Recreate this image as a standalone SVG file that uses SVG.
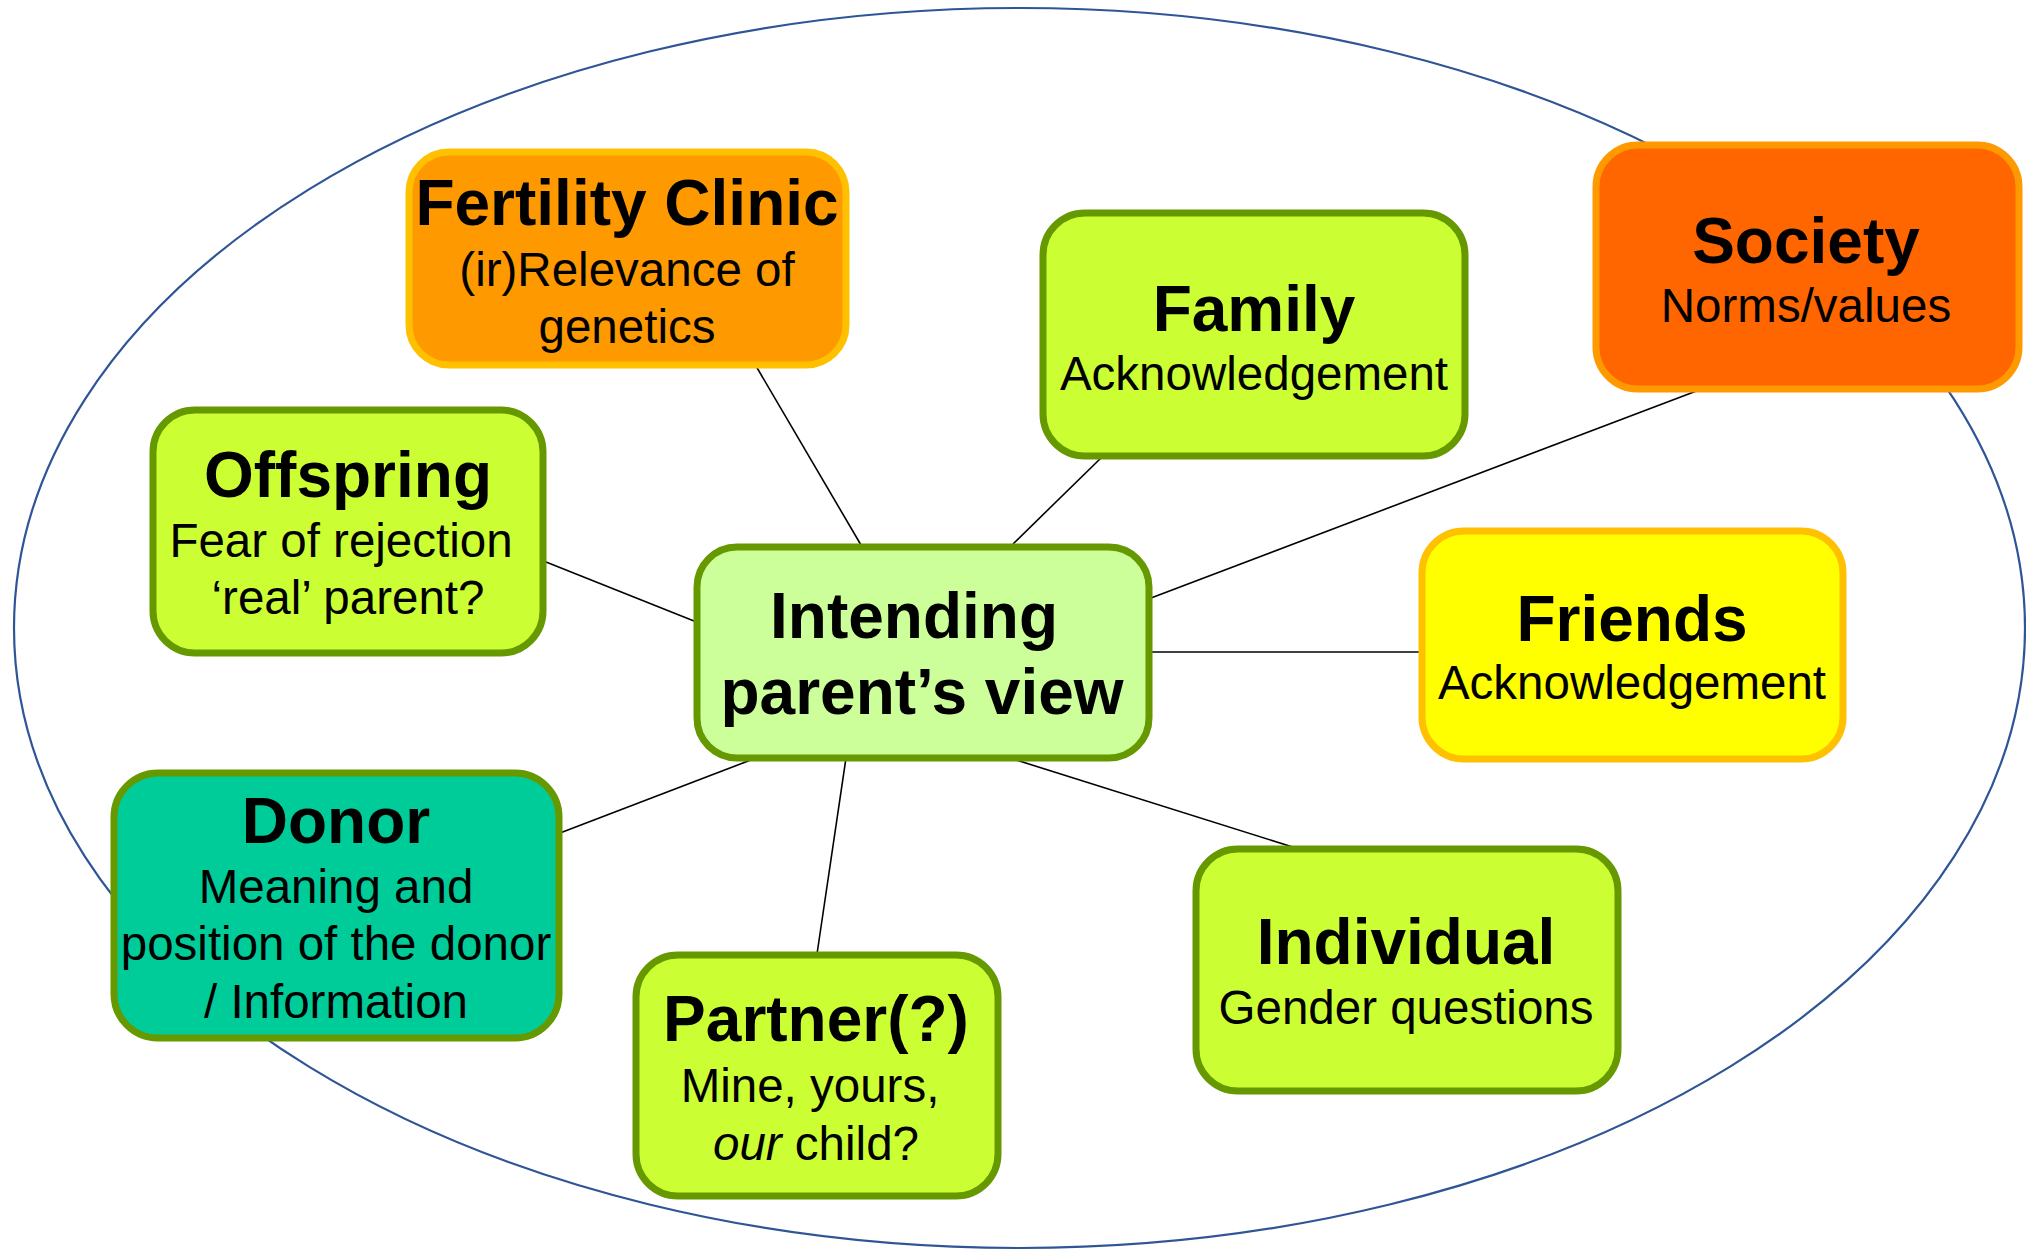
<svg xmlns="http://www.w3.org/2000/svg" width="2026" height="1251" viewBox="0 0 2026 1251">
<style>
text{font-family:"Liberation Sans",Arial,sans-serif;fill:#000;text-anchor:middle}
.t{font-size:64px;font-weight:bold}
.s{font-size:47.5px}
.box{stroke-width:7}
.g{fill:#CCFF33;stroke:#669900}
.conn line{stroke:#000;stroke-width:1.6}
</style>
<rect width="2026" height="1251" fill="#fff"/>
<ellipse id="boundary" cx="1019.5" cy="628" rx="1005.5" ry="620" fill="none" stroke="#2F5597" stroke-width="2.2"/>
<g id="connectors" class="conn">
<line x1="756" y1="366" x2="861" y2="545"/>
<line x1="1103" y1="456" x2="1013" y2="544"/>
<line x1="1707" y1="387" x2="1151" y2="598"/>
<line x1="546" y1="562" x2="694" y2="621"/>
<line x1="1151" y1="652" x2="1420" y2="652"/>
<line x1="1013" y1="759" x2="1299" y2="849"/>
<line x1="846" y1="758" x2="817" y2="954"/>
<line x1="756" y1="758" x2="560" y2="833"/>
</g>
<g id="fertility-clinic">
<rect class="box" x="409" y="152" width="437" height="213" rx="40" fill="#FF9900" stroke="#FFC000"/>
<text class="t" x="627" y="225">Fertility Clinic</text>
<text class="s" x="627" y="286">(ir)Relevance of</text>
<text class="s" x="627" y="343">genetics</text>
</g>
<g id="family">
<rect class="box g" x="1043" y="213" width="422" height="243" rx="42"/>
<text class="t" x="1254" y="331">Family</text>
<text class="s" x="1254" y="390">Acknowledgement</text>
</g>
<g id="society">
<rect class="box" x="1596" y="145" width="423" height="244" rx="42" fill="#FF6600" stroke="#FF9900"/>
<text class="t" x="1806" y="263">Society</text>
<text class="s" x="1806" y="322">Norms/values</text>
</g>
<g id="offspring">
<rect class="box g" x="153" y="410" width="390" height="243" rx="42"/>
<text class="t" x="348" y="497">Offspring</text>
<text class="s" x="341" y="557">Fear of rejection</text>
<text class="s" x="348" y="614">‘real’ parent?</text>
</g>
<g id="intending-parent">
<rect class="box" x="697" y="547" width="452" height="211" rx="40" fill="#CCFF99" stroke="#669900"/>
<text class="t" x="914" y="638">Intending</text>
<text class="t" x="922" y="714">parent’s view</text>
</g>
<g id="friends">
<rect class="box" x="1422" y="531" width="421" height="228" rx="42" fill="#FFFF00" stroke="#FFC000"/>
<text class="t" x="1632" y="641">Friends</text>
<text class="s" x="1632" y="699">Acknowledgement</text>
</g>
<g id="donor">
<rect class="box" x="114" y="773" width="445" height="265" rx="44" fill="#00CC99" stroke="#669900"/>
<text class="t" x="336" y="843">Donor</text>
<text class="s" x="336" y="903">Meaning and</text>
<text class="s" x="336" y="960">position of the donor</text>
<text class="s" x="336" y="1018">/ Information</text>
</g>
<g id="partner">
<rect class="box g" x="636" y="955" width="362" height="241" rx="42"/>
<text class="t" x="816" y="1041">Partner(?)</text>
<text class="s" x="810" y="1102">Mine, yours,</text>
<text class="s" x="816" y="1160"><tspan font-style="italic">our</tspan> child?</text>
</g>
<g id="individual">
<rect class="box g" x="1196" y="849" width="422" height="242" rx="42"/>
<text class="t" x="1406" y="964">Individual</text>
<text class="s" x="1406" y="1024">Gender questions</text>
</g>
</svg>
